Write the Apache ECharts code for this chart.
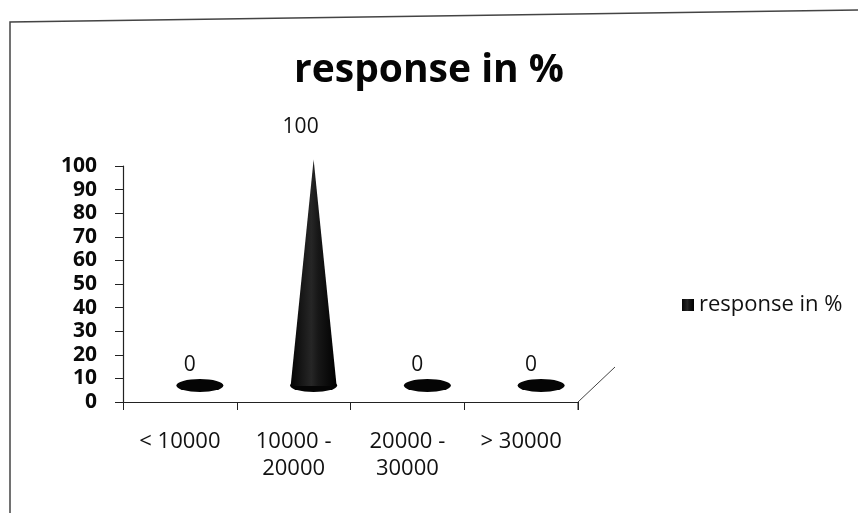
<!DOCTYPE html>
<html lang="en">
<head>
    <meta charset="UTF-8">
    <title>response in %</title>
    <script src="https://cdn.jsdelivr.net/npm/echarts@6/dist/echarts.min.js"></script>
    <style>
        html, body { margin: 0; padding: 0; background: #fff; }
    </style>
</head>
<body>
    <div id="main" style="width:858px;height:513px;"></div>
</body>
<script>
    // 数据
    var categories = ['< 10000', '10000 -\n20000', '20000 -\n30000', '> 30000'];
    var responsePct = [0, 100, 0, 0];
    var yTicks = [0, 10, 20, 30, 40, 50, 60, 70, 80, 90, 100];

    var myChart = echarts.init(document.getElementById('main'));

    var coneFill = new echarts.graphic.LinearGradient(0, 0, 1, 0, [
        {offset: 0, color: '#050505'},
        {offset: 0.45, color: '#262626'},
        {offset: 0.6, color: '#171717'},
        {offset: 1, color: '#000'}
    ]);

    // in the 3D chart the label of a flat (zero) cone sits on its base ellipse
    var coneData = responsePct.map(function (v) {
        return {
            value: v,
            label: {offset: v > 0 ? [7, -17] : [10, -5]}
        };
    });

    var option = {
        animation: false,
        backgroundColor: '#fff',
        textStyle: {fontFamily: 'Open Sans', color: '#111'},
        title: {
            text: 'response in %',
            left: 'center',
            top: 46,
            textStyle: {fontSize: 39, fontWeight: 'bold', color: '#050505', fontFamily: 'Open Sans'}
        },
        legend: {
            data: ['response in %'],
            left: 677,
            top: 289,
            icon: 'rect',
            itemWidth: 12,
            itemHeight: 12,
            textStyle: {fontSize: 22, color: '#111'}
        },
        grid: {left: 123, right: 280, top: 166, bottom: 111, containLabel: false},
        xAxis: {
            type: 'category',
            data: categories,
            axisLine: {lineStyle: {color: '#222', width: 1.2}},
            axisTick: {show: true, length: 8, lineStyle: {color: '#222'}},
            axisLabel: {fontSize: 22, color: '#111', margin: 26, lineHeight: 27, interval: 0, verticalAlign: 'top'}
        },
        yAxis: {
            type: 'value',
            min: yTicks[0],
            max: yTicks[yTicks.length - 1],
            interval: yTicks[1] - yTicks[0],
            splitLine: {show: false},
            axisLine: {show: true, lineStyle: {color: '#222', width: 1.2}},
            axisTick: {show: true, length: 8, lineStyle: {color: '#222'}},
            axisLabel: {fontSize: 21, fontWeight: 'bold', color: '#0a0a0a', margin: 26}
        },
        series: [
            {
                name: 'response in %',
                type: 'pictorialBar',
                symbol: 'triangle',
                symbolSize: [46, '96%'],
                symbolPosition: 'start',
                symbolOffset: [20, -16],
                z: 3,
                itemStyle: {color: coneFill},
                label: {
                    show: true,
                    position: 'top',
                    fontSize: 21,
                    color: '#111'
                },
                data: coneData
            },
            {
                name: 'response in %',
                type: 'pictorialBar',
                symbol: 'circle',
                symbolSize: [47, 13],
                symbolPosition: 'start',
                symbolOffset: [20, -10],
                z: 2,
                itemStyle: {color: '#050505'},
                data: responsePct
            }
        ]
    };

    myChart.setOption(option);

    // 3D floor edge at the end of the category axis, plus the scanned frame
    var rect = myChart.getModel().getComponent('grid').coordinateSystem.getRect();
    var xEnd = rect.x + rect.width;
    var yEnd = rect.y + rect.height;
    myChart.setOption({
        graphic: [
            {
                type: 'line',
                shape: {x1: xEnd, y1: yEnd, x2: xEnd + 37, y2: yEnd - 35},
                style: {stroke: '#444', lineWidth: 1}
            },
            {
                type: 'line',
                shape: {x1: xEnd, y1: yEnd, x2: xEnd, y2: yEnd + 8},
                style: {stroke: '#222', lineWidth: 1}
            },
            {
                type: 'polyline',
                shape: {points: [[10, 513], [10, 22], [858, 10]]},
                style: {stroke: '#444', lineWidth: 1.5, fill: null}
            }
        ]
    });
</script>
</html>
